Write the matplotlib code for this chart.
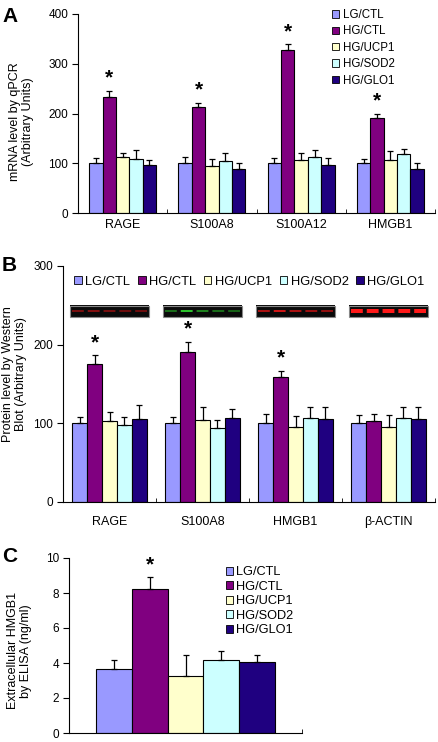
import matplotlib
matplotlib.use('Agg')
import matplotlib.pyplot as plt
from matplotlib.patches import Patch, Rectangle
import numpy as np

plt.rcParams['font.family'] = ['Liberation Sans', 'DejaVu Sans']

groups = ['LG/CTL', 'HG/CTL', 'HG/UCP1', 'HG/SOD2', 'HG/GLO1']
colors = ['#9999ff', '#800080', '#ffffcc', '#ccffff', '#1f0080']

# panel A: mRNA by qPCR
genes_a = ['RAGE', 'S100A8', 'S100A12', 'HMGB1']
mrna = np.array([[100, 100, 100, 100],      # LG/CTL
                 [233, 213, 327, 190],      # HG/CTL
                 [113, 95, 107, 107],       # HG/UCP1
                 [108, 105, 113, 118],      # HG/SOD2
                 [96, 89, 96, 89]])         # HG/GLO1
mrna_err = np.array([[10, 13, 11, 9],
                     [13, 9, 13, 10],
                     [8, 13, 13, 17],
                     [19, 15, 13, 10],
                     [11, 11, 15, 12]])
sig_a = [True, True, True, True]

# panel B: protein by western blot
genes_b = ['RAGE', 'S100A8', 'HMGB1', 'β-ACTIN']
protein = np.array([[100, 100, 100, 100],
                    [176, 191, 159, 103],
                    [103, 104, 95, 95],
                    [98, 94, 107, 107],
                    [105, 107, 106, 106]])
protein_err = np.array([[8, 8, 12, 10],
                        [11, 13, 8, 9],
                        [11, 17, 14, 15],
                        [10, 10, 14, 14],
                        [18, 11, 15, 15]])
sig_b = [True, True, True, False]

# blot strips above panel B (band colour and lane intensities)
blot_color = [(0.85, 0.1, 0.1), (0.2, 0.85, 0.2), (0.95, 0.1, 0.1), (1.0, 0.1, 0.1)]
blot_bands = [[0.55, 0.6, 0.55, 0.5, 0.5],
              [0.5, 0.9, 0.6, 0.5, 0.45],
              [0.7, 0.85, 0.7, 0.65, 0.6],
              [1.0, 1.0, 1.0, 1.0, 1.0]]
blot_thick = [2, 2, 2, 4]

# panel C: extracellular HMGB1 by ELISA
elisa = [3.68, 8.25, 3.23, 4.16, 4.04]
elisa_err = [0.51, 0.67, 1.2, 0.51, 0.4]

fig = plt.figure(figsize=(4.38, 7.42), dpi=100)
W, H = 438.0, 742.0


def make_ax(l, r, t, b):
    return fig.add_axes([l / W, 1 - b / H, (r - l) / W, (b - t) / H])


def style(ax, ngroups, pad):
    for s in ['top', 'right']:
        ax.spines[s].set_visible(False)
    ax.tick_params(axis='y', direction='out', length=4, labelsize=8.5, pad=3)
    ax.set_xlim(-0.5, ngroups - 0.5)
    ax.set_xticks(np.arange(ngroups) + 0.5, minor=True)
    ax.tick_params(axis='x', which='minor', direction='in', length=3)
    ax.tick_params(axis='x', which='major', length=0, labelsize=9, pad=pad)


def bars(ax, vals, errs, sig, width, fs):
    vals = np.atleast_2d(vals)
    errs = np.atleast_2d(errs)
    x = np.arange(vals.shape[1])
    for k in range(5):
        xs = x + (k - 2) * width
        ax.bar(xs, vals[k], width, color=colors[k], edgecolor='black',
               linewidth=0.8, zorder=2)
        ax.errorbar(xs, vals[k], yerr=[np.zeros_like(errs[k]), errs[k]],
                    fmt='none', ecolor='black', elinewidth=0.9, capsize=2.3,
                    capthick=0.9, zorder=3)
    for i, s in enumerate(sig):
        if s:
            ax.annotate('*', (x[i] - width, vals[1][i] + errs[1][i]),
                        xytext=(0, 2), textcoords='offset points',
                        ha='center', va='bottom', fontsize=fs, fontweight='bold')


handles = [Patch(facecolor=c, edgecolor='black', linewidth=0.6) for c in colors]

# ---- A
ax = make_ax(78, 435, 14, 213)
bars(ax, mrna, mrna_err, sig_a, 0.15, 15)
style(ax, 4, 4)
ax.set_ylim(0, 400)
ax.set_yticks([0, 100, 200, 300, 400])
ax.set_xticks(np.arange(4))
ax.set_xticklabels(genes_a)
ax.set_ylabel('mRNA level by qPCR\n(Arbitrary Units)', fontsize=9, linespacing=1.1)
ax.yaxis.set_label_coords(-0.123, 0.46)
ax.legend(handles, groups, loc='upper left', bbox_to_anchor=(0.712, 1.025),
          frameon=False, fontsize=8.3, borderpad=0, borderaxespad=0,
          handlelength=0.6, handleheight=0.6, handletextpad=0.3, labelspacing=0.38)
fig.text(2 / W, 1 - 16 / H, 'A', fontsize=15, fontweight='bold', va='center')

# ---- B
ax = make_ax(63, 435, 266, 502)
bars(ax, protein, protein_err, sig_b, 0.16, 15)
style(ax, 4, 10)
ax.set_ylim(0, 300)
ax.set_yticks([0, 100, 200, 300])
ax.set_xticks(np.arange(4))
ax.set_xticklabels(genes_b)
ax.set_ylabel('Protein level by Western\nBlot (Arbitrary Units)', fontsize=9, linespacing=1.1)
ax.yaxis.set_label_coords(-0.097, 0.54)
ax.legend(handles, groups, loc='upper left', bbox_to_anchor=(0.03, 0.958), ncol=5,
          frameon=False, fontsize=9.3, borderpad=0, borderaxespad=0,
          handlelength=0.6, handleheight=0.6, handletextpad=0.25, columnspacing=0.6)
for i in range(4):
    img = np.zeros((12, 80, 3))
    img[:] = 0.04
    c = np.array(blot_color[i])
    t = blot_thick[i]
    for j, inten in enumerate(blot_bands[i]):
        img[6 - t // 2:6 + (t + 1) // 2, j * 16 + 2:j * 16 + 14] = c * inten
    x0, x1 = i - 0.42, i + 0.42
    ax.imshow(img, extent=(x0, x1, 235, 249), aspect='auto', zorder=2,
              interpolation='bilinear')
    ax.add_patch(Rectangle((x0, 235), x1 - x0, 14, fill=False,
                           edgecolor='#888888', linewidth=0.8, zorder=3))
ax.set_xlim(-0.5, 3.5)
ax.set_ylim(0, 300)
fig.text(2 / W, 1 - 265 / H, 'B', fontsize=15, fontweight='bold', va='center')

# ---- C
ax = make_ax(69, 302, 558, 733)
bars(ax, np.array(elisa)[:, None], np.array(elisa_err)[:, None], [True], 0.153, 15)
style(ax, 1, 4)
ax.set_ylim(0, 10)
ax.set_yticks([0, 2, 4, 6, 8, 10])
ax.set_xticks([])
ax.set_ylabel('Extracellular HMGB1\nby ELISA (ng/ml)', fontsize=9, linespacing=1.1)
ax.yaxis.set_label_coords(-0.159, 0.47)
ax.legend(handles, groups, loc='upper left', bbox_to_anchor=(0.672, 0.953),
          frameon=False, fontsize=9.2, borderpad=0, borderaxespad=0,
          handlelength=0.6, handleheight=0.6, handletextpad=0.25, labelspacing=0.2)
fig.text(2 / W, 1 - 557 / H, 'C', fontsize=15, fontweight='bold', va='center')

fig.savefig('out.png', dpi=100)
